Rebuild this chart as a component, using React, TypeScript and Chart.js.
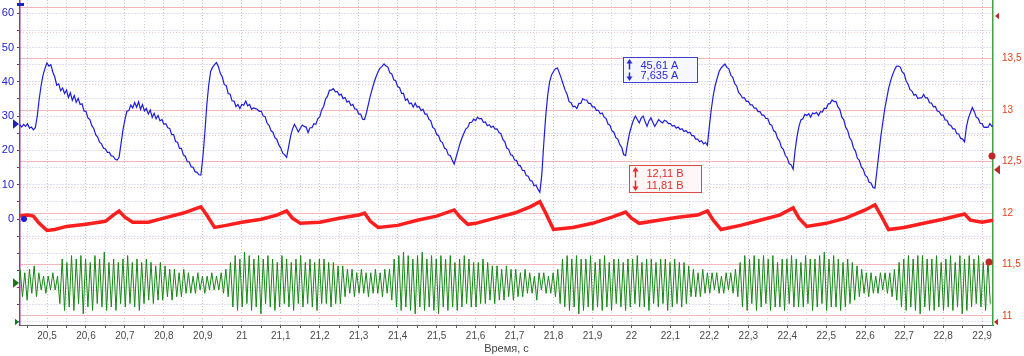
import React, { useEffect, useRef } from "react";
import { Chart, registerables } from "chart.js";

Chart.register(...registerables);

// ---------- axis ranges ----------
const TIME_MIN = 20.4307;
const TIME_MAX = 22.928;
const CURRENT_MIN = -30.9;
const CURRENT_MAX = 63.85;
const VOLT_MIN = 10.912;
const VOLT_MAX = 14.07;
const GREEN_MIN = -12.24;
const GREEN_MAX = 82.5;

const TIME_STEP = 0.05;
const TIME_LABEL_STEP = 0.1;
const CURRENT_STEP = 5;
const CURRENT_LABEL_STEP = 10;
const CURRENT_LABEL_RANGE = [0, 60];
const VOLT_STEP = 0.25;
const VOLT_LABEL_STEP = 0.5;
const VOLT_LABEL_RANGE = [11, 13.5];

const X_TITLE = "Время, с";

// ---------- blue channel: current, A (sampled every 5 ms) ----------
const BLUE_T0 = 20.43;
const BLUE_DT = 0.005;
const BLUE_A = [
  27.5, 26.8, 27.6, 27, 27.8, 26.5, 26.8, 26, 26.6, 30, 35, 39, 42, 44,
  45.5, 44.6, 45, 42.8, 41.4, 39, 39.4, 37.4, 38.2, 36.6, 37.6, 35.4, 36.8, 34.6, 36, 34, 35.2, 33.4, 33.6, 31.5,
  31.4, 29.5, 29, 27.2, 26.4, 24.6, 23.9, 22.4, 21.9, 20.6, 20.4, 19.4, 19.4, 18.4, 18.3, 17.4, 17.2, 18, 22, 26,
  29, 31.4, 31.6, 33.2, 32.4, 34, 32.6, 34.2, 32, 33.4, 31.5, 32.2, 30.6, 31.8, 29.6, 30.8, 29.2, 30.2, 28.6, 29,
  27.6, 27.8, 26.6, 26.4, 24.6, 24.6, 22.6, 22.4, 20.6, 20.6, 18.7, 18.3, 16.7, 16.7, 15.2, 15.1, 13.8, 13.6, 12.9, 12.8,
  18, 25, 33, 39, 43, 44.2, 45, 45.6, 44.4, 42.4, 41.4, 39.2, 38.9, 36.6, 36.4, 34.4, 34.4, 32.8, 33.4, 32.2,
  33.4, 33.2, 34.4, 33, 33.4, 32, 32.4, 32.2, 31.9, 31.4, 31.4, 30, 29.8, 27.9, 27.3, 25.7, 25.3, 23.7, 23.2, 21.6,
  20.7, 19.2, 18.7, 18, 21, 24, 26.2, 27.6, 26.6, 25.4, 26.4, 27.4, 27, 26.8, 25.2, 26.6, 26.6, 27.8, 27.6, 29.2,
  29.8, 31.8, 32.8, 35, 35.8, 37.6, 37.6, 38, 37.1, 37.2, 36.1, 36.4, 35.1, 35.4, 34.1, 34.4, 33.1, 33.4, 32.1, 32,
  30.6, 30.6, 29.1, 29, 31, 33.5, 36, 38, 40, 41.6, 43, 44, 44.5, 45.2, 44.6, 44.3, 42.6, 42.3, 40.6, 40.3,
  38.6, 38.3, 36.6, 36.6, 34.6, 35, 33.6, 33.8, 32.6, 33.8, 32.6, 32.8, 31.6, 32, 30.6, 30.6, 29.1, 28.6, 26.7, 26.3,
  24.7, 24.3, 22.7, 22.3, 20.7, 20.3, 18.7, 18.5, 17.2, 16, 18, 20, 22, 23.6, 25, 26.3, 26.7, 28.1, 28.2, 29.1,
  28.7, 29.7, 29.2, 29.3, 28.2, 28.3, 27.2, 27.5, 26.7, 27.1, 26.2, 26.3, 25.2, 24.9, 23.2, 22.5, 20.7, 20.3, 18.7, 18.5,
  17.2, 17.1, 15.7, 15.5, 14.2, 14.1, 12.7, 12.5, 11.2, 11.1, 9.7, 9.9, 8.7, 7.8, 13, 22, 30, 36, 40, 42,
  43, 43.8, 44, 42.6, 41, 39.2, 37.5, 36.3, 34.2, 33.9, 32.7, 32.9, 32.2, 33.7, 33.7, 35.1, 34.7, 34.7, 33.7, 33.7,
  32.7, 32.7, 31.7, 31.7, 30.7, 30.9, 29.7, 29.3, 27.7, 27.3, 25.7, 25.3, 23.7, 23.3, 21.7, 20.9, 18.8, 18.5, 22, 25,
  27, 28.8, 30, 29, 28, 29.4, 30, 28.4, 27, 28.6, 29.5, 28.2, 27, 28, 29, 28.4, 28, 28.8, 28.5, 27.8,
  27.8, 27.1, 27.3, 26.5, 26.8, 26.1, 26.3, 25.5, 25.8, 25.1, 25.3, 24.3, 24.3, 23.3, 23.3, 22.5, 22.8, 21.9, 22.3, 21.5,
  27, 32, 36, 39, 41, 43, 44, 44.6, 45.2, 44.2, 43.8, 41.9, 41.3, 39.5, 38.8, 36.9, 36.3, 35.3, 35.3, 34.3,
  34.3, 33.3, 33.3, 32.3, 32.3, 31.3, 31.3, 30.3, 30.3, 29.3, 29.3, 27.7, 27.3, 25.7, 25.3, 23.5, 22.8, 20.9, 20.3, 18.5,
  17.8, 16.1, 15.8, 14.5, 20, 24, 27, 28.9, 29.2, 30.5, 30.2, 30.7, 29.7, 30.9, 30.7, 31.1, 30.2, 31.3, 31.2, 32.3,
  32.2, 33.5, 33.7, 34.7, 34.2, 34.3, 32.7, 31.9, 29.7, 28.9, 26.7, 25.8, 23.7, 22.8, 20.7, 19.8, 17.7, 17.1, 15.2, 14.5,
  12.7, 12.3, 10.7, 10.5, 9.2, 9, 14, 19, 24, 28, 32, 35, 38, 40.2, 42, 43.4, 44.5, 44.6, 44.3, 42.9,
  42.3, 40.3, 39.3, 37.7, 37.3, 36.1, 36.3, 35.1, 35.3, 35.3, 36.3, 35.3, 35.3, 33.9, 33.8, 32.7, 32.8, 31.5, 31.3, 30.3,
  30.3, 28.9, 28.8, 27.5, 27.3, 26.3, 26.3, 24.9, 24.8, 23.5, 23.3, 22.5, 27, 29.5, 31, 32.5, 31.3, 29.7, 29.3, 27.9,
  27.8, 26.7, 26.8, 26.7, 27.8, 27, 27.2,
];

// ---------- red channel: voltage, V ----------
const RED_T = [
  20.431, 20.45, 20.465, 20.48, 20.5, 20.52, 20.55, 20.6, 20.65, 20.67,
  20.685, 20.7, 20.72, 20.76, 20.8, 20.85, 20.88, 20.895, 20.91, 20.93,
  20.96, 21.0, 21.05, 21.09, 21.115, 21.13, 21.15, 21.2, 21.25, 21.3,
  21.315, 21.33, 21.35, 21.4, 21.45, 21.5, 21.545, 21.56, 21.58, 21.6,
  21.65, 21.7, 21.74, 21.765, 21.78, 21.8, 21.85, 21.9, 21.95, 21.985,
  22.0, 22.02, 22.07, 22.12, 22.17, 22.195, 22.21, 22.23, 22.28, 22.33,
  22.38, 22.415, 22.43, 22.45, 22.5, 22.55, 22.6, 22.625, 22.64, 22.66,
  22.7, 22.75, 22.8, 22.855, 22.87, 22.9, 22.928,
];
const RED_V = [
  11.97, 11.98, 11.97, 11.9, 11.83, 11.84, 11.87, 11.89, 11.92, 11.98,
  12.02, 11.96, 11.91, 11.91, 11.95, 12.0, 12.04, 12.06, 11.98, 11.86,
  11.88, 11.91, 11.94, 11.98, 12.02, 11.95, 11.9, 11.91, 11.95, 11.98,
  12.0, 11.92, 11.86, 11.88, 11.93, 11.97, 12.03, 11.96, 11.89, 11.9,
  11.95, 12.0, 12.06, 12.11, 12.0, 11.84, 11.86, 11.9, 11.96, 12.01,
  11.95, 11.9, 11.93, 11.96, 11.98, 12.02, 11.93, 11.84, 11.88, 11.93,
  11.98, 12.05, 11.95, 11.87, 11.9, 11.95, 12.03, 12.08, 11.98, 11.84,
  11.86, 11.9, 11.94, 11.99, 11.93, 11.91, 11.93,
];

// ---------- green channel (sampled every 6 ms, own hidden axis) ----------
const GREEN_T0 = 20.431;
const GREEN_DT = 0.006;
const GREEN = [
  4, -4, 3, -5, 4, -3, 5, -4, 3, -2, 2, -3, 2, -2, 3, -2, 2,
  -6, 7, -8, 6, -7, 8, -8, 7, -6, 8, -9, 7, -7, 6, -8, 8, -6, 7, -7, 9, -8, 6, -7, 7, -8, 6, -6, 7, -7, 8, -6, 6, -7, 7, -8, 6, -6, 7, -5, 6, -6, 5, -5, 6, -5,
  5, -4, 4, -5, 4, -4, 3, -4, 4, -3, 3, -3, 2, -3, 3, -2, 2, -3, 2, -2, 3, -2, 2, -2, 3, -3, 4, -4,
  6, -7, 8, -8, 7, -7, 9, -6, 8, -8, 7, -7, 8, -9, 7, -6, 8, -7, 7, -8, 6, -7, 8, -6, 7, -7, 6, -8, 7, -6, 8, -7, 6, -6, 7, -7, 6, -8, 7, -6, 7, -6, 6, -7, 6, -6, 5, -6, 5,
  -4, 4, -3, 4, -4, 3, -3, 4, -3, 3, -4, 3, -3, 4, -3, 3, -4, 4, -3, 4, -5,
  7, -7, 8, -8, 9, -7, 8, -8, 7, -9, 8, -7, 9, -8, 7, -7, 8, -8, 7, -9, 8, -7, 7, -8, 8, -7, 6, -8, 7, -7, 8, -6, 7, -7, 6, -7, 6, -6, 7, -6, 6,
  -5, 5, -6, 5, -5, 4, -5, 5, -4, 4, -5, 4, -4, 3, -4, 4, -3, 3, -3, 2, -5, 3, -2, 3, -3, 2, -3, 3, -4, 4,
  -6, 7, -7, 8, -8, 7, -7, 8, -9, 7, -8, 7, -7, 8, -8, 6, -7, 7, -8, 8, -7, 6, -8, 7, -6, 7, -7, 6, -8, 7, -7, 7, -6, 8, -7, 6, -7, 7, -8, 7, -6, 6, -7, 7, -6, 7, -8, 6, -7, 7, -6, 6, -7, 6, -6,
  5, -4, 4, -4, 3, -4, 4, -3, 3, -3, 3, -2, 3, -3, 2, -3, 3, -2, 3, -3, 4, -4,
  6, -7, 8, -8, 7, -6, 8, -8, 7, -7, 8, -6, 7, -8, 8, -7, 6, -7, 7, -8, 7, -6, 8, -7, 7, -7, 6, -7, 8, -6, 7, -8, 7, -7, 8, -6, 9, -8, 7, -7, 8, -7, 7, -8, 6, -7, 7, -6, 6, -5, 5,
  -4, 4, -3, 3, -4, 3, -3, 2, -3, 3, -2, 3, -3, 3, -4, 4, -5,
  6, -7, 7, -8, 8, -7, 7, -8, 8, -9, 8, -7, 7, -8, 7, -8, 8, -7, 6, -8, 7, -7, 8, -8, 6, -7, 8, -9, 7, -8, 8, -7, 7, -6, 8, -7, 6, -8, 7, -6,
];

// ---------- readouts and channel markers ----------
const READOUT_CURRENT = ["45,61 А", "7,635 А"];
const READOUT_CURRENT_AT = [21.978, 47.2]; // time, A (top-left corner)
const READOUT_VOLT = ["12,11 В", "11,81 В"];
const READOUT_VOLT_AT = [21.994, 12.467]; // time, V (top-left corner)
const MARK_CURRENT_OFFSET = 27.7; // A
const MARK_CURRENT_ZERO = 0; // A
const MARK_GREEN_ZERO = 0;
const MARK_VOLT_CURSORS = [12.554, 11.524]; // V
const MARK_VOLT_TRIGGER = 12.42; // V

const fmt = (v: number) => String(Math.round(v * 100) / 100).replace(".", ",");
const isMult = (v: number, m: number) => Math.abs(v / m - Math.round(v / m)) < 1e-6;

const FONT = '"Liberation Sans", Arial, sans-serif';

function drawReadout(
  ctx: CanvasRenderingContext2D,
  x: number,
  y: number,
  w: number,
  h: number,
  stroke: string,
  fill: string,
  text: string,
  lines: string[]
) {
  x = Math.round(x) + 0.5;
  y = Math.round(y) + 0.5;
  ctx.fillStyle = fill;
  ctx.fillRect(x, y, w, h);
  ctx.strokeStyle = stroke;
  ctx.lineWidth = 1;
  ctx.strokeRect(x, y, w, h);
  const ax = x + 6;
  ctx.strokeStyle = text;
  ctx.fillStyle = text;
  ctx.lineWidth = 1.5;
  ctx.beginPath();
  ctx.moveTo(ax, y + 12);
  ctx.lineTo(ax, y + 4);
  ctx.moveTo(ax, y + 15);
  ctx.lineTo(ax, y + h - 4);
  ctx.stroke();
  ctx.beginPath();
  ctx.moveTo(ax, y + 1.5);
  ctx.lineTo(ax - 3, y + 6);
  ctx.lineTo(ax + 3, y + 6);
  ctx.closePath();
  ctx.fill();
  ctx.beginPath();
  ctx.moveTo(ax, y + h - 1.5);
  ctx.lineTo(ax - 3, y + h - 6);
  ctx.lineTo(ax + 3, y + h - 6);
  ctx.closePath();
  ctx.fill();
  ctx.font = `11px ${FONT}`;
  ctx.textBaseline = "middle";
  ctx.textAlign = "left";
  ctx.fillText(lines[0], x + 17, y + 8);
  ctx.fillText(lines[1], x + 17, y + h - 7);
}

function triangle(ctx: CanvasRenderingContext2D, tipX: number, y: number, dir: number, size: number, color: string) {
  ctx.fillStyle = color;
  ctx.beginPath();
  ctx.moveTo(tipX, y);
  ctx.lineTo(tipX - dir * size, y - size * 0.8);
  ctx.lineTo(tipX - dir * size, y + size * 0.8);
  ctx.closePath();
  ctx.fill();
}

function dot(ctx: CanvasRenderingContext2D, x: number, y: number, r: number, color: string) {
  ctx.fillStyle = color;
  ctx.beginPath();
  ctx.arc(x, y, r, 0, Math.PI * 2);
  ctx.fill();
}

const overlayPlugin = {
  id: "overlay",
  afterDraw(chart: any) {
    const { ctx, scales, chartArea } = chart;
    const sx = scales.x;
    const sa = scales.y;
    const sv = scales.yV;
    const sg = scales.yG;
    ctx.save();
    drawReadout(
      ctx,
      sx.getPixelForValue(READOUT_CURRENT_AT[0]),
      sa.getPixelForValue(READOUT_CURRENT_AT[1]),
      74,
      25,
      "#4040d0",
      "#f7f7ff",
      "#2a2ad6",
      READOUT_CURRENT
    );
    drawReadout(
      ctx,
      sx.getPixelForValue(READOUT_VOLT_AT[0]),
      sv.getPixelForValue(READOUT_VOLT_AT[1]),
      72,
      27,
      "#e04848",
      "#fff7f7",
      "#e52a2a",
      READOUT_VOLT
    );
    const L = chartArea.left;
    const R = chartArea.right;
    triangle(ctx, L - 1, sa.getPixelForValue(MARK_CURRENT_OFFSET), 1, 6, "#2020b8");
    dot(ctx, L + 4, sa.getPixelForValue(MARK_CURRENT_ZERO), 3, "#2020c8");
    triangle(ctx, L - 1, sg.getPixelForValue(MARK_GREEN_ZERO), 1, 6, "#157a15");
    triangle(ctx, L - 1, chartArea.bottom - 3, 1, 4, "#157a15");
    ctx.fillStyle = "#2020c8";
    ctx.fillRect(L - 3, chartArea.top + 3, 7, 3);
    dot(ctx, R - 1, sv.getPixelForValue(MARK_VOLT_CURSORS[0]), 3.5, "#c02828");
    dot(ctx, R - 4, sv.getPixelForValue(MARK_VOLT_CURSORS[1]), 3.5, "#c02828");
    triangle(ctx, R + 1, sv.getPixelForValue(MARK_VOLT_TRIGGER), -1, 6, "#c02828");
    triangle(ctx, R + 2, chartArea.top + 16, -1, 4, "#c02828");
    triangle(ctx, R + 1, chartArea.bottom - 3, -1, 4, "#c02828");
    ctx.restore();
  },
};

export default function App() {
  const ref = useRef<HTMLCanvasElement | null>(null);

  useEffect(() => {
    document.body.style.margin = "0";
    const canvas = ref.current;
    if (!canvas) return;

    const bluePts = BLUE_A.map((a, i) => ({ x: BLUE_T0 + i * BLUE_DT, y: a }));
    const redPts = RED_T.map((t, i) => ({ x: t, y: RED_V[i] }));
    const greenPts = GREEN.map((g, i) => ({ x: GREEN_T0 + i * GREEN_DT, y: g }));

    const chart = new Chart(canvas, {
      type: "line",
      data: {
        datasets: [
          {
            label: "Ток",
            data: bluePts,
            yAxisID: "y",
            borderColor: "#1c1ce0",
            borderWidth: 1.2,
            pointRadius: 0,
            tension: 0,
            fill: false,
          },
          {
            label: "Напряжение",
            data: redPts,
            yAxisID: "yV",
            borderColor: "#ff1e1e",
            borderWidth: 3.5,
            pointRadius: 0,
            tension: 0,
            fill: false,
          },
          {
            label: "Канал 3",
            data: greenPts,
            yAxisID: "yG",
            borderColor: "#168616",
            borderWidth: 1,
            pointRadius: 0,
            tension: 0,
            fill: false,
          },
        ],
      },
      options: {
        animation: false,
        responsive: false,
        maintainAspectRatio: false,
        parsing: false,
        normalized: true,
        events: [],
        layout: { padding: 0 },
        plugins: {
          legend: { display: false },
          tooltip: { enabled: false },
          title: { display: false },
        },
        scales: {
          x: {
            type: "linear",
            position: "bottom",
            min: TIME_MIN,
            max: TIME_MAX,
            afterFit: (s: any) => {
              s.height = 31;
              s.paddingLeft = 0;
              s.paddingRight = 0;
            },
            ticks: {
              stepSize: TIME_STEP,
              maxTicksLimit: 1000,
              autoSkip: false,
              includeBounds: false,
              maxRotation: 0,
              padding: 2,
              color: "#4a4a4a",
              font: { family: FONT, size: 10 },
              callback: (v: any) => (isMult(Number(v), TIME_LABEL_STEP) ? fmt(Number(v)) : ""),
            },
            grid: {
              color: (c: any) => (isMult(c.tick.value, TIME_LABEL_STEP) ? "#c6c6c6" : "#d6d6d6"),
              lineWidth: 1,
              drawTicks: true,
              tickLength: 3,
              tickColor: "#555555",
            },
            border: { display: true, color: "#666666", width: 1, dash: [1, 2] },
            title: {
              display: true,
              text: X_TITLE,
              color: "#454545",
              font: { family: FONT, size: 11 },
              padding: { top: 0, bottom: 0 },
            },
          },
          y: {
            type: "linear",
            position: "left",
            min: CURRENT_MIN,
            max: CURRENT_MAX,
            afterFit: (s: any) => {
              s.width = 20;
              s.paddingTop = 0;
              s.paddingBottom = 0;
            },
            ticks: {
              stepSize: CURRENT_STEP,
              maxTicksLimit: 1000,
              autoSkip: false,
              includeBounds: false,
              padding: 3,
              color: "#2323cc",
              font: { family: FONT, size: 11 },
              callback: (v: any) => {
                const n = Number(v);
                return n >= CURRENT_LABEL_RANGE[0] && n <= CURRENT_LABEL_RANGE[1] && isMult(n, CURRENT_LABEL_STEP)
                  ? fmt(n)
                  : "";
              },
            },
            grid: {
              color: "#bcbcec",
              lineWidth: 1,
              drawTicks: true,
              tickLength: 3,
              tickColor: "#8a2a8a",
            },
            border: { display: true, color: "#9a309a", width: 1.5, dash: [1, 2] },
          },
          yV: {
            type: "linear",
            position: "right",
            min: VOLT_MIN,
            max: VOLT_MAX,
            afterFit: (s: any) => {
              s.width = 31;
              s.paddingTop = 0;
              s.paddingBottom = 0;
            },
            ticks: {
              stepSize: VOLT_STEP,
              maxTicksLimit: 1000,
              autoSkip: false,
              includeBounds: false,
              padding: 9,
              color: "#e2401e",
              font: { family: FONT, size: 10 },
              callback: (v: any) => {
                const n = Number(v);
                return n >= VOLT_LABEL_RANGE[0] - 1e-6 && n <= VOLT_LABEL_RANGE[1] + 1e-6 && isMult(n, VOLT_LABEL_STEP)
                  ? fmt(n)
                  : "";
              },
            },
            grid: {
              color: (c: any) => (isMult(c.tick.value, VOLT_LABEL_STEP) ? "#f2b8b8" : "#f4c6c6"),
              lineWidth: 1,
              drawTicks: false,
            },
            border: {
              display: true,
              color: "#3ea03e",
              width: 1.5,
              dash: (c: any) => (c.tick && isMult(c.tick.value, VOLT_LABEL_STEP) ? [] : [1, 2]),
            },
          },
          yG: {
            type: "linear",
            display: false,
            min: GREEN_MIN,
            max: GREEN_MAX,
          },
        },
      } as any,
      plugins: [overlayPlugin],
    });

    return () => chart.destroy();
  }, []);

  return (
    <div style={{ width: 1024, height: 356 }}>
      <canvas ref={ref} width={1024} height={356} style={{ display: "block" }} />
    </div>
  );
}
